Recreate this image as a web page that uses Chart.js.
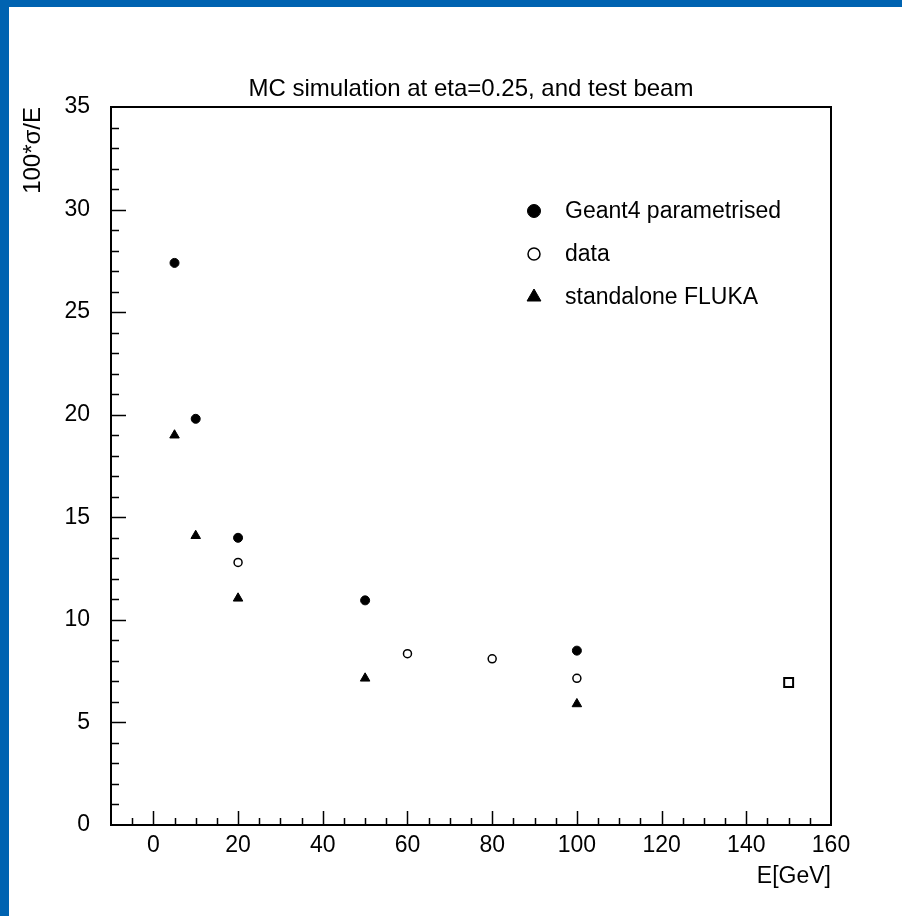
<!DOCTYPE html>
<html>
<head>
<meta charset="utf-8">
<script src="https://cdn.jsdelivr.net/npm/chart.js@4.4.1/dist/chart.umd.min.js"></script>
<style>
  html, body { margin: 0; padding: 0; }
  body { width: 902px; height: 916px; background: #0063b1; position: relative; overflow: hidden; }
  #marco { position: absolute; left: 9px; top: 7px; width: 893px; height: 909px; background: #fff; }
</style>
</head>
<body>
<div id="marco"><canvas id="grafica"></canvas></div>
<script>
// datos
const energiaGeant = [5, 10, 20, 50, 100];
const sigmaGeant = [27.4, 19.8, 14.0, 10.95, 8.5];

const energiaData = [20, 60, 80, 100];
const sigmaData = [12.8, 8.35, 8.1, 7.15];

const energiaFluka = [5, 10, 20, 50, 100];
const sigmaFluka = [19.0, 14.1, 11.05, 7.15, 5.9];

const energiaCuadro = [150];
const sigmaCuadro = [6.95];

const etiquetasX = [0, 20, 40, 60, 80, 100, 120, 140, 160];
const etiquetasY = [0, 5, 10, 15, 20, 25, 30, 35];

const nombres = ['Geant4 parametrised', 'data', 'standalone FLUKA'];

const fuente = { family: "'Liberation Sans', Arial, sans-serif", size: 23 };
const fuenteTitulo = { family: "'Liberation Sans', Arial, sans-serif", size: 24 };

function puntos(xs, ys) {
  return xs.map((x, i) => ({ x: x, y: ys[i] }));
}

// marcas cortas hacia dentro, como en PAW
const marcasInternas = {
  id: 'marcasInternas',
  afterDraw(chart) {
    const { ctx, chartArea: a, scales: { x, y } } = chart;
    ctx.save();
    ctx.strokeStyle = '#000';
    ctx.lineWidth = 1.5;
    ctx.beginPath();
    for (let v = -5; v < 160; v += 5) {
      const px = Math.round(x.getPixelForValue(v)) + 0.5;
      const largo = v % 20 === 0 ? 14 : 7;
      ctx.moveTo(px, a.bottom);
      ctx.lineTo(px, a.bottom - largo);
    }
    for (let v = 1; v < 35; v++) {
      const py = Math.round(y.getPixelForValue(v)) + 0.5;
      const largo = v % 5 === 0 ? 15 : 8;
      ctx.moveTo(a.left, py);
      ctx.lineTo(a.left + largo, py);
    }
    ctx.stroke();
    ctx.restore();
  }
};

// leyenda dentro del area, a la manera de la figura original
const leyenda = {
  id: 'leyenda',
  afterDraw(chart) {
    const { ctx, chartArea: a } = chart;
    const filas = [104, 147, 190];
    const radios = [6.5, 6, 8];
    ctx.save();
    ctx.font = fuente.size + 'px ' + fuente.family;
    ctx.textBaseline = 'middle';
    ctx.fillStyle = '#000';
    nombres.forEach((nombre, i) => {
      const ds = chart.data.datasets[i];
      const mx = a.left + 423;
      const my = a.top + filas[i];
      ctx.fillStyle = ds.pointBackgroundColor;
      ctx.strokeStyle = '#000';
      ctx.lineWidth = ds.pointBorderWidth;
      Chart.helpers.drawPoint(ctx, { pointStyle: ds.pointStyle, radius: radios[i], rotation: 0, borderWidth: ds.pointBorderWidth }, mx, my);
      ctx.fillStyle = '#000';
      ctx.fillText(nombre, a.left + 454, my + 1);
    });
    ctx.restore();
  }
};

const ctx = document.getElementById('grafica').getContext('2d');
const myChart = new Chart(ctx, {
  type: 'scatter',
  data: {
    datasets: [
      {
        label: nombres[0],
        data: puntos(energiaGeant, sigmaGeant),
        pointStyle: 'circle',
        pointRadius: 4.5,
        pointBackgroundColor: '#000',
        pointBorderColor: '#000',
        pointBorderWidth: 1
      },
      {
        label: nombres[1],
        data: puntos(energiaData, sigmaData),
        pointStyle: 'circle',
        pointRadius: 4,
        pointBackgroundColor: '#fff',
        pointBorderColor: '#000',
        pointBorderWidth: 1.5
      },
      {
        label: nombres[2],
        data: puntos(energiaFluka, sigmaFluka),
        pointStyle: 'triangle',
        pointRadius: 5.5,
        pointBackgroundColor: '#000',
        pointBorderColor: '#000',
        pointBorderWidth: 1
      },
      {
        label: '',
        data: puntos(energiaCuadro, sigmaCuadro),
        pointStyle: 'rect',
        pointRadius: 6.3,
        pointBackgroundColor: '#fff',
        pointBorderColor: '#000',
        pointBorderWidth: 2
      }
    ]
  },
  options: {
    responsive: true,
    maintainAspectRatio: false,
    animation: false,
    layout: { padding: 0 },
    plugins: {
      legend: { display: false },
      tooltip: { enabled: false }
    },
    scales: {
      x: {
        type: 'linear',
        position: 'bottom',
        min: -10,
        max: 160,
        afterBuildTicks: s => { s.ticks = etiquetasX.map(v => ({ value: v })); },
        afterFit: s => { s.height = 91; },
        grid: { display: false, drawTicks: false },
        border: { display: true, color: '#000', width: 2 },
        ticks: { color: '#000', font: fuente, padding: 7, maxRotation: 0, autoSkip: false },
        title: { display: true, text: 'E[GeV]', align: 'end', color: '#000', font: fuente, padding: { top: 0, bottom: 26 } }
      },
      x2: {
        type: 'linear',
        position: 'top',
        min: -10,
        max: 160,
        afterFit: s => { s.height = 100; },
        grid: { display: false, drawTicks: false },
        border: { display: true, color: '#000', width: 2 },
        ticks: { display: false },
        title: { display: true, text: 'MC simulation at eta=0.25, and test beam', color: '#000', font: fuenteTitulo, padding: { top: 68, bottom: 0 } }
      },
      y: {
        type: 'linear',
        position: 'left',
        min: 0,
        max: 35,
        afterBuildTicks: s => { s.ticks = etiquetasY.map(v => ({ value: v })); },
        afterFit: s => { s.width = 102; },
        grid: { display: false, drawTicks: false },
        border: { display: true, color: '#000', width: 2 },
        ticks: { color: '#000', font: fuente, padding: 21 },
        title: { display: true, text: '100*σ/E', align: 'end', color: '#000', font: fuenteTitulo, padding: { top: 10, bottom: 0 } }
      },
      y2: {
        type: 'linear',
        position: 'right',
        min: 0,
        max: 35,
        afterFit: s => { s.width = 71; },
        grid: { display: false, drawTicks: false },
        border: { display: true, color: '#000', width: 2 },
        ticks: { display: false }
      }
    }
  },
  plugins: [marcasInternas, leyenda]
});
</script>
</body>
</html>
